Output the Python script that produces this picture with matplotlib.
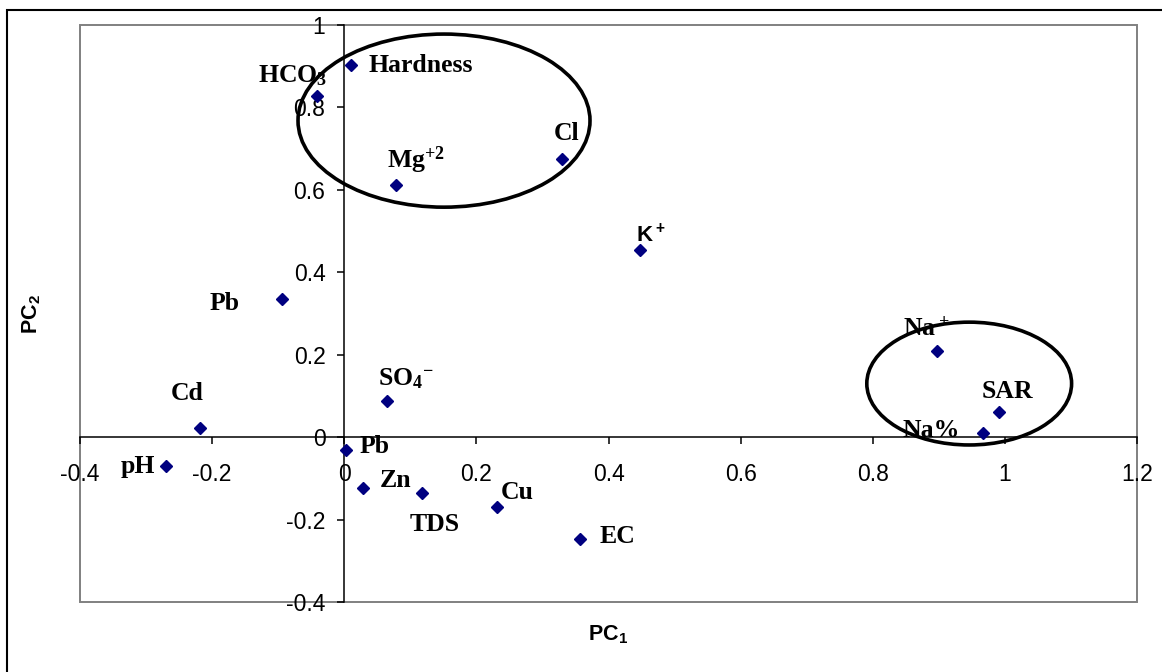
import numpy as np
import matplotlib.pyplot as plt
from matplotlib.patches import Ellipse, Rectangle

plt.rcParams['mathtext.default'] = 'regular'

# loadings
names = ['Hardness', 'HCO$_3$', 'Mg$^{+2}$', 'Cl', 'K$^+$', 'Pb', 'Na$^+$', 'SAR', 'Na%',
         'Cd', 'SO$_4$$^{-}$', 'Pb', 'pH', 'Zn', 'TDS', 'Cu', 'EC']
pc1 = [0.010, -0.041, 0.078, 0.329, 0.448, -0.094, 0.897, 0.991, 0.967,
       -0.219, 0.064, 0.003, -0.270, 0.029, 0.118, 0.231, 0.357]
pc2 = [0.902, 0.827, 0.611, 0.674, 0.454, 0.334, 0.209, 0.062, 0.011,
       0.022, 0.088, -0.031, -0.070, -0.123, -0.135, -0.169, -0.247]

xticks = [-0.4, -0.2, 0, 0.2, 0.4, 0.6, 0.8, 1, 1.2]
yticks = [-0.4, -0.2, 0, 0.2, 0.4, 0.6, 0.8, 1]

# label placement (pixels from the point)
lab_dx = [18, 10.5, -9, -7.5, -4, -43, -34, -17, -23, -29, -8.5, 13, -11, 16.5, -13, 4, 19]
lab_dy = [-7, 13.5, 17.5, 19.5, 8, -10.5, 16, 13.7, -4, 28, 15, -3, -7, 1.3, -38, 7.4, -4]
lab_ha = ['left', 'right', 'left', 'left', 'left', 'right', 'left', 'left', 'right',
          'left', 'left', 'left', 'right', 'left', 'left', 'left', 'left']

# grouping ellipses: centre, width, height
groups = [((0.151, 0.768), 0.442, 0.420), ((0.946, 0.130), 0.310, 0.298)]

W, H = 1162, 672
fig = plt.figure(figsize=(W/100, H/100), dpi=100)
ax = fig.add_axes([80/W, 1-602/H, (1137-80)/W, (602-25)/H])

ax.plot(pc1, pc2, ls='none', marker='D', ms=6.6, color='#000080', zorder=4, clip_on=False)

for i in range(len(names)):
    if names[i] == 'K$^+$':
        fam, fs = 'Liberation Sans', 16
    else:
        fam, fs = 'Liberation Serif', 18.5
    ax.annotate(names[i], (pc1[i], pc2[i]), xytext=(lab_dx[i], lab_dy[i]),
                textcoords='offset pixels', ha=lab_ha[i], va='baseline',
                family=fam, fontweight='bold', fontsize=fs, zorder=3)

for c, w, h in groups:
    ax.add_patch(Ellipse(c, w, h, fill=False, ec='black', lw=2.6, zorder=5, clip_on=False))

ax.set_xlim(-0.4, 1.2)
ax.set_ylim(-0.4, 1)

ax.spines['left'].set_position(('data', 0))
ax.spines['bottom'].set_position(('data', 0))
ax.spines['top'].set_visible(False)
ax.spines['right'].set_visible(False)
for s in ['left', 'bottom']:
    ax.spines[s].set_linewidth(1.1)
ax.tick_params(axis='x', direction='out', length=5, width=1.1, pad=13.5, labelsize=16.5)
ax.tick_params(axis='y', direction='out', length=5, width=1.1, pad=8.5, labelsize=16.5)

ax.set_xticks(xticks)
ax.set_yticks(yticks)
ax.set_xticklabels(['%g' % t for t in xticks], family='Liberation Sans', fontsize=16.5)
ax.set_yticklabels(['%g' % t for t in yticks], family='Liberation Sans', fontsize=16.5)

ax.add_patch(Rectangle((0, 0), 1, 1, transform=ax.transAxes, fill=False,
                       ec='#808080', lw=1.4, clip_on=False, zorder=0))

fig.text(608.5/W, 1-640/H, 'PC$_1$', ha='center', va='baseline',
         family='Liberation Sans', fontweight='bold', fontsize=15.5)
fig.text(32/W, 1-314/H, 'PC$_2$', ha='center', va='center', rotation=90,
         family='Liberation Sans', fontweight='bold', fontsize=15.5)

fig.patches.append(Rectangle((7/W, -0.05), 1.1, 1-9.5/H+0.05, transform=fig.transFigure,
                             fill=False, ec='black', lw=1.5))

fig.savefig('out.png', dpi=100)
